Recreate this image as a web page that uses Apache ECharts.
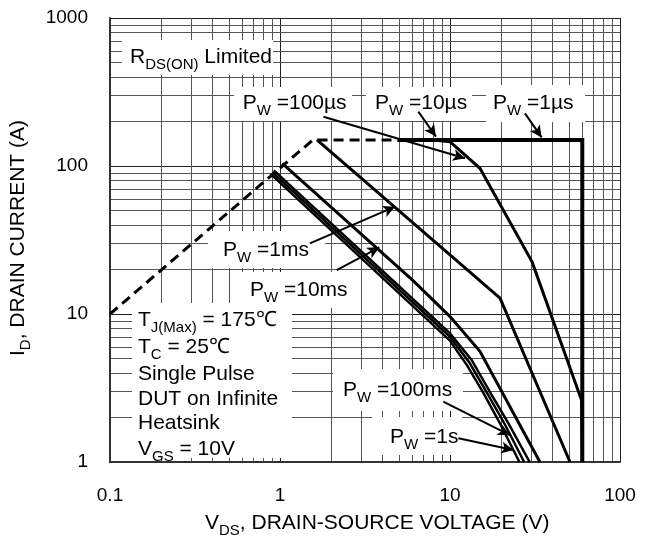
<!DOCTYPE html>
<html><head><meta charset="utf-8">
<script src="https://cdn.jsdelivr.net/npm/echarts@6/dist/echarts.min.js"></script>
<style>html,body{margin:0;padding:0;background:#fff}#c{width:655px;height:538px}</style>
</head><body><div id="c"></div>
<script>
// ---- axis ticks ----
const xTicks = [0.1, 1, 10, 100];
const xTickLabels = ['0.1', '1', '10', '100'];
const yTicks = [1, 10, 100, 1000];
const yTickLabels = ['1', '10', '100', '1000'];
const xMinor = [0.2,0.3,0.4,0.5,0.6,0.7,0.8,0.9, 2,3,4,5,6,7,8,9, 20,30,40,50,60,70,80,90];
const yMinor = [2,3,4,5,6,7,8,9, 20,30,40,50,60,70,80,90, 200,300,400,500,600,700,800,900];

// ---- curves: [VDS (V), ID (A)] ----
const rdsLimit = [[0.1,10],[1.56,150],[4.9,150]];
const pw1us   = [[4.9,150],[60,150],[60,1]];
const pw10us  = [[8,150],[10,146],[15,96.5],[30.4,22.5],[59.5,2.6],[60,1]];
const pw100us = [[1.65,150],[19.7,12.8],[50.8,1]];
const pw1ms   = [[1.03,104],[6,17],[10,9.6],[15,5.6],[33.8,1]];
const pw10ms  = [[0.92,93.5],[10,7.4],[13.4,4.9],[17.4,2.9],[22.2,1.8],[29.4,1]];
const pw100ms = [[0.9,91],[10,7.0],[13,4.7],[16.6,2.9],[21,1.8],[27.3,1]];
const pw1s    = [[0.88,88.5],[10,6.6],[12.6,4.5],[15.8,2.9],[19.8,1.8],[25.6,1]];

// ---- annotation arrows: [from, to] in data units ----
const arrows = [
  [[1.80,215],[12.25,112.8]],
  [[6.51,233],[8.27,158]],
  [[27.6,227],[34.6,156]],
  [[1.50,30.0],[4.75,53.1]],
  [[2.155,19.8],[3.84,28.2]],
  [[9.13,2.555],[22.5,1.52]],
  [[11.2,1.446],[23.6,1.205]]
];

const FF = "'Liberation Sans', Arial, Helvetica, sans-serif";
const rich = {
  m: {fontSize: 21, fontFamily: FF, color: '#000', lineHeight: 30, verticalAlign: 'middle'},
  s: {fontSize: 15, fontFamily: FF, color: '#000', lineHeight: 16, verticalAlign: 'bottom'}
};
function txt(x, y, text, extra) {
  return Object.assign({
    type: 'text', x: x, y: y, z: 3, silent: true,
    style: {text: text, rich: rich, fill: '#000', font: '21px ' + FF,
      textAlign: 'left', textVerticalAlign: 'middle', align: 'left', verticalAlign: 'middle'}
  }, extra || {});
}
function box(x, y, w, h) {
  return {type: 'rect', z: 1, silent: true, shape: {x: x, y: y, width: w, height: h},
    style: {fill: '#fff', stroke: null}};
}
const pw = (t) => '{m|P}{s|W}{m| =' + t + '}';

const graphics = [
  box(122,40,151,35), txt(130,57,'{m|R}{s|DS(ON)}{m| Limited}'),
  box(234,87,118,34), txt(242.7,103,pw('100µs')),
  box(366,87,106,34), txt(375,103,pw('10µs')),
  box(486,85,99,37), txt(493,103,pw('1µs')),
  box(208,231,117,37), txt(223,250,pw('1ms')),
  box(240,272,115,36), txt(250,290,pw('10ms')),
  box(333,369,130,42), txt(343,390,pw('100ms')),
  box(372,417,90,38), txt(390,437,pw('1s')),
  box(132,303,160,155),
  txt(138,320.5,'{m|T}{s|J(Max)}{m| = 175℃}'),
  txt(138,347,'{m|T}{s|C}{m| = 25℃}'),
  txt(138,374,'{m|Single Pulse}'),
  txt(138,399,'{m|DUT on Infinite}'),
  txt(138,423,'{m|Heatsink}'),
  txt(138,449,'{m|V}{s|GS}{m| = 10V}'),
  txt(205,523,'{m|V}{s|DS}{m|, DRAIN-SOURCE VOLTAGE (V)}'),
  txt(18,238,'{m|I}{s|D}{m|, DRAIN CURRENT (A)}', {rotation: Math.PI/2,
    style: {text: '{m|I}{s|D}{m|, DRAIN CURRENT (A)}', rich: rich, fill:'#000', font: '21px ' + FF,
      textAlign: 'center', textVerticalAlign: 'middle', align: 'center', verticalAlign: 'middle'}})
];

function curve(name, data, width, dashed) {
  return {name: name, type: 'line', data: data, symbol: 'none', showSymbol: false,
    z: 4, silent: true, animation: false,
    lineStyle: {color: '#000', width: width, type: dashed ? [10,6] : 'solid', cap: 'butt', join: 'miter'}};
}

const chart = echarts.init(document.getElementById('c'), null, {renderer: 'canvas'});
chart.setOption({
  animation: false,
  backgroundColor: '#fff',
  grid: {left: 110, right: 35, top: 18, bottom: 76, containLabel: false},
  xAxis: {
    type: 'log', logBase: 10, min: 0.1, max: 100,
    axisLine: {show: true, lineStyle: {color: '#333', width: 2}},
    axisTick: {show: false},
    splitLine: {show: true, lineStyle: {color: '#222', width: 1}},
    axisLabel: {fontSize: 19, fontFamily: FF, color: '#000', margin: 24,
      formatter: (v) => { const i = xTicks.findIndex(t => Math.abs(Math.log10(t) - Math.log10(v)) < 1e-6); return i >= 0 ? xTickLabels[i] : ''; }}
  },
  yAxis: {
    type: 'log', logBase: 10, min: 1, max: 1000,
    axisLine: {show: true, lineStyle: {color: '#333', width: 2}},
    axisTick: {show: false},
    splitLine: {show: true, lineStyle: {color: '#222', width: 1}},
    axisLabel: {fontSize: 19, fontFamily: FF, color: '#000', margin: 22,
      formatter: (v) => { const i = yTicks.findIndex(t => Math.abs(Math.log10(t) - Math.log10(v)) < 1e-6); return i >= 0 ? yTickLabels[i] : ''; }}
  },
  graphic: graphics,
  series: [
    {type: 'line', data: [[0.1,1]], symbol: 'none', showSymbol: false, silent: true, z: 0,
      lineStyle: {opacity: 0},
      markLine: {silent: true, z: 0, symbol: 'none', animation: false,
        label: {show: false},
        lineStyle: {color: '#555', width: 1, type: 'solid'},
        data: xMinor.map(v => ({xAxis: v})).concat(yMinor.map(v => ({yAxis: v})))}},
    curve('RDS(ON) Limited', rdsLimit, 3, true),
    curve('1µs', pw1us, 4),
    curve('10µs', pw10us, 3),
    curve('100µs', pw100us, 3),
    curve('1ms', pw1ms, 3),
    curve('10ms', pw10ms, 2.5),
    curve('100ms', pw100ms, 2.5),
    curve('1s', pw1s, 2.5),
    {type: 'line', data: [[0.1,1]], symbol: 'none', showSymbol: false, silent: true, z: 5,
      lineStyle: {opacity: 0},
      markLine: {silent: true, z: 5, animation: false,
        symbol: ['none', 'arrow'], symbolSize: [9, 12],
        label: {show: false},
        lineStyle: {color: '#000', width: 2, type: 'solid'},
        data: arrows.map(a => [{coord: a[0]}, {coord: a[1]}])}}
  ]
});
</script>
</body></html>
